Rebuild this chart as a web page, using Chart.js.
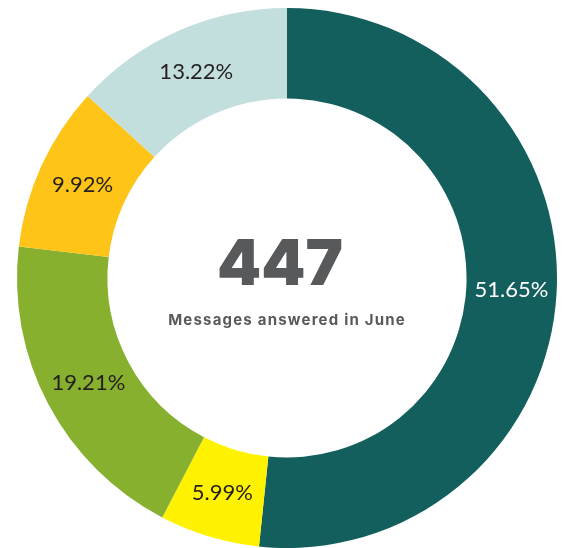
<!DOCTYPE html>
<html>
<head>
<meta charset="utf-8">
<script src="https://cdn.jsdelivr.net/npm/chart.js@4"></script>
<style>
html,body{margin:0;padding:0;background:#fff;}
#wrap{width:566px;height:548px;position:relative;}
</style>
</head>
<body>
<div id="wrap"><canvas id="c" width="566" height="548"></canvas></div>
<script>
const categories = ["Segment 1", "Segment 2", "Segment 3", "Segment 4", "Segment 5"];
const shares = [51.65, 5.99, 19.21, 9.92, 13.22];
const sliceLabels = ["51.65%", "5.99%", "19.21%", "9.92%", "13.22%"];
const sliceColors = ["#135f5e", "#fff200", "#87b02f", "#fec418", "#c3dfdd"];
const labelColors = ["#ffffff", "#231f20", "#231f20", "#231f20", "#231f20"];
const centerValue = "447";
const centerCaption = "Messages answered in June";

const sliceLabelPlugin = {
  id: 'sliceLabels',
  afterDatasetsDraw(chart) {
    const ctx = chart.ctx;
    const meta = chart.getDatasetMeta(0);
    ctx.save();
    ctx.font = '400 22px Lato, "Open Sans", sans-serif';
    ctx.textAlign = 'center';
    ctx.textBaseline = 'middle';
    meta.data.forEach((arc, i) => {
      const p = arc.getCenterPoint();
      ctx.fillStyle = labelColors[i];
      ctx.fillText(sliceLabels[i], p.x, p.y);
    });
    ctx.restore();
  }
};

const centerTextPlugin = {
  id: 'centerText',
  afterDraw(chart) {
    const ctx = chart.ctx;
    const meta = chart.getDatasetMeta(0);
    const arc = meta.data[0];
    const cx = arc.x, cy = arc.y;
    ctx.save();
    ctx.textAlign = 'center';
    ctx.textBaseline = 'alphabetic';
    ctx.fillStyle = '#58595b';
    ctx.font = '900 63px Inter, Lato, sans-serif';
    ctx.fillText(centerValue, cx - 7, cy + 7);
    ctx.font = '700 15px Inter, Lato, sans-serif';
    ctx.letterSpacing = '1.2px';
    ctx.fillText(centerCaption, cx, cy + 47);
    ctx.restore();
  }
};

new Chart(document.getElementById('c'), {
  type: 'doughnut',
  data: {
    labels: categories,
    datasets: [{
      data: shares,
      backgroundColor: sliceColors,
      borderWidth: 0,
      hoverOffset: 0
    }]
  },
  options: {
    responsive: false,
    animation: false,
    cutout: '66.5%',
    layout: { padding: { left: 17, right: 9, top: 8, bottom: 0 } },
    plugins: {
      legend: { display: false },
      tooltip: { enabled: false }
    }
  },
  plugins: [sliceLabelPlugin, centerTextPlugin]
});
</script>
</body>
</html>
